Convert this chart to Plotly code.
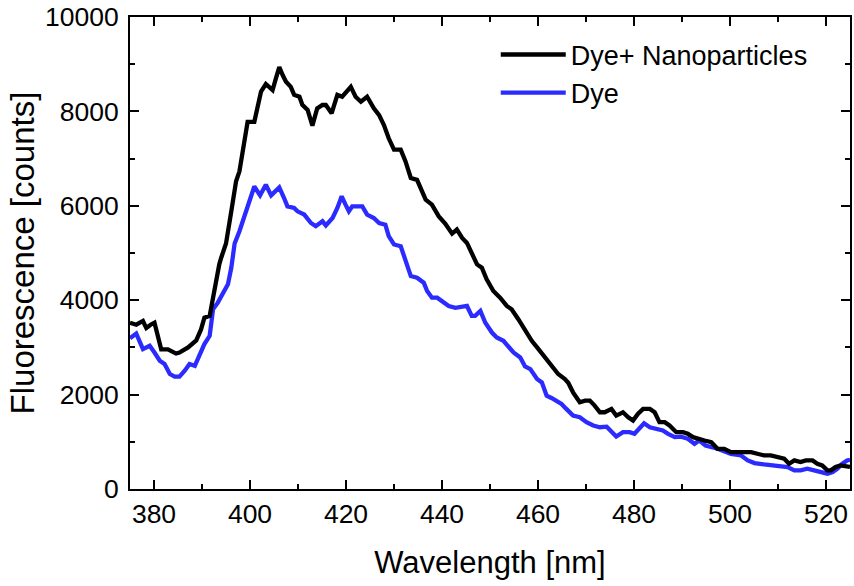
import plotly.graph_objects as go

# Dye + Nanoparticles (black)
np_x = [375.0, 376.3, 377.7, 378.4, 379.3, 380.1, 381.5, 382.9, 384.6, 385.3, 387.1, 388.8, 389.8, 390.5,
        391.6, 392.6, 393.6, 394.0, 395.0, 396.1, 397.1, 397.8, 398.8, 399.5, 400.9, 401.6, 402.3, 403.3,
        404.7, 405.4, 406.1, 406.8, 407.5, 408.5, 409.2, 410.3, 410.9, 412.0, 413.0, 414.0, 415.1, 415.8,
        417.0, 418.2, 419.2, 421.0, 422.0, 423.1, 424.4, 425.8, 426.9, 427.9, 428.9, 430.0, 431.4, 432.4,
        433.5, 434.8, 435.5, 436.6, 437.9, 439.3, 440.7, 442.1, 443.1, 444.2, 445.2, 446.2, 447.3, 448.3,
        449.3, 450.7, 452.1, 453.5, 454.5, 455.9, 457.3, 458.7, 460.1, 461.5, 462.8, 464.2, 465.6, 466.3,
        467.3, 468.7, 469.8, 470.8, 471.8, 472.9, 473.9, 475.3, 476.3, 477.7, 478.8, 479.8, 480.8, 481.9,
        483.3, 484.3, 485.3, 486.4, 487.4, 488.8, 490.2, 491.2, 492.3, 493.3, 494.7, 496.1, 497.4, 498.8,
        500.2, 501.6, 503.0, 504.4, 505.7, 507.1, 508.5, 509.9, 511.3, 512.3, 513.4, 514.7, 515.8, 517.2,
        518.2, 519.2, 520.3, 521.0, 522.0, 523.0, 524.4, 525.0]
np_y = [3520, 3480, 3560, 3410, 3480, 3525, 2960, 2960, 2870, 2890, 3000, 3150, 3380, 3630,
        3670, 4265, 4760, 4900, 5200, 5880, 6520, 6730, 7430, 7780, 7780, 8100, 8420, 8580,
        8450, 8700, 8940, 8770, 8630, 8520, 8350, 8310, 8140, 8030, 7700, 8065, 8136, 8136,
        7960, 8350, 8310, 8520, 8310, 8205, 8310, 8065, 7920, 7710, 7430, 7190, 7190, 6940,
        6590, 6550, 6380, 6130, 6025, 5780, 5620, 5410, 5497, 5320, 5214, 4969, 4758, 4687,
        4441, 4195, 4054, 3878, 3808, 3597, 3350, 3139, 2963, 2787, 2611, 2436, 2330, 2250,
        2048, 1837, 1873, 1873, 1767, 1626, 1626, 1697, 1556, 1626, 1520, 1450, 1591, 1697,
        1697, 1626, 1415, 1415, 1345, 1204, 1204, 1169, 1098, 1063, 1028, 992, 852, 852,
        781, 781, 781, 781, 746, 711, 711, 676, 641, 536, 606, 570, 606, 606,
        536, 500, 395, 395, 465, 500, 465, 470]

# Dye (blue)
dye_x = [375.0, 376.3, 377.7, 379.1, 380.1, 381.2, 382.2, 383.3, 384.3, 385.3, 386.4, 387.4, 388.5, 389.5,
         390.5, 391.6, 392.3, 393.3, 394.3, 395.4, 396.1, 396.8, 397.8, 398.8, 399.9, 400.9, 402.1, 403.3,
         404.4, 406.1, 407.1, 407.8, 409.2, 409.9, 411.3, 412.7, 413.7, 415.1, 415.8, 417.2, 418.2, 419.1,
         419.9, 420.6, 421.3, 423.4, 424.4, 425.8, 426.9, 428.2, 428.9, 430.0, 431.4, 432.4, 433.5, 434.8,
         436.2, 436.9, 437.9, 439.0, 440.0, 440.7, 441.4, 442.8, 443.5, 445.2, 446.2, 446.9, 448.0, 449.0,
         450.4, 451.4, 452.8, 453.9, 454.9, 456.3, 457.3, 458.4, 459.8, 460.8, 461.8, 462.8, 463.9, 464.9,
         465.9, 467.3, 468.7, 470.1, 471.5, 472.9, 474.3, 475.3, 476.3, 477.7, 479.1, 480.1, 481.2, 482.1,
         483.3, 484.7, 486.0, 487.1, 488.5, 489.8, 491.2, 492.6, 493.6, 494.9, 497.4, 500.2, 502.3, 503.7,
         505.1, 507.1, 509.9, 512.0, 513.4, 514.7, 516.1, 517.5, 518.9, 520.3, 521.4, 522.4, 523.4, 524.4,
         525.0]
dye_y = [3196, 3293, 2963, 3033, 2892, 2717, 2647, 2436, 2379, 2379, 2506, 2647, 2611, 2858,
         3069, 3245, 3808, 3948, 4125, 4336, 4687, 5200, 5461, 5778, 6095, 6411, 6221, 6447,
         6221, 6390, 6164, 5989, 5953, 5883, 5814, 5636, 5567, 5672, 5584, 5742, 5953, 6200,
         6025, 5883, 5989, 5989, 5814, 5742, 5636, 5600, 5356, 5180, 5144, 4828, 4511, 4476,
         4370, 4195, 4054, 4054, 3983, 3913, 3878, 3840, 3857, 3878, 3667, 3667, 3772, 3526,
         3315, 3209, 3139, 2998, 2892, 2787, 2597, 2541, 2330, 2259, 1978, 1929, 1873, 1803,
         1697, 1556, 1520, 1415, 1345, 1309, 1320, 1204, 1113, 1204, 1204, 1169, 1275, 1393,
         1309, 1275, 1239, 1169, 1098, 1110, 1063, 958, 1028, 922, 852, 746, 711, 606,
         549, 521, 500, 465, 395, 395, 430, 395, 359, 324, 359, 430, 536, 606,
         620]

x_ticks = [380, 400, 420, 440, 460, 480, 500, 520]
x_labels = ["380", "400", "420", "440", "460", "480", "500", "520"]
y_ticks = [0, 2000, 4000, 6000, 8000, 10000]
y_labels = ["0", "2000", "4000", "6000", "8000", "10000"]

FONT = "Liberation Sans, Arial, sans-serif"

fig = go.Figure()
fig.add_trace(go.Scatter(x=dye_x, y=dye_y, mode="lines", name="Dye",
                         line=dict(color="#2b2bff", width=4.3)))
fig.add_trace(go.Scatter(x=np_x, y=np_y, mode="lines", name="Dye+ Nanoparticles",
                         line=dict(color="black", width=4.3)))

axis_common = dict(showline=True, linecolor="black", linewidth=2, mirror="allticks",
                   ticks="inside", ticklen=9, tickwidth=1.5, tickcolor="black",
                   showgrid=False, zeroline=False,
                   tickfont=dict(family=FONT, size=26.5, color="black"))

fig.update_xaxes(range=[375, 525], tickvals=x_ticks, ticktext=x_labels,
                 minor=dict(dtick=10, tick0=370, ticks="inside", ticklen=5, tickcolor="black", tickwidth=1.5),
                 title=dict(text="Wavelength [nm]", font=dict(family=FONT, size=31, color="black"), standoff=24),
                 **axis_common)
fig.update_yaxes(range=[0, 10000], tickvals=y_ticks, ticktext=y_labels, ticklabelstandoff=4,
                 minor=dict(dtick=1000, ticks="inside", ticklen=5, tickcolor="black", tickwidth=1.5),
                 title=dict(text="Fluorescence [counts]", font=dict(family=FONT, size=33, color="black"), standoff=0),
                 **axis_common)

fig.update_layout(
    width=854, height=586,
    margin=dict(l=130, r=2, t=15, b=97),
    paper_bgcolor="white", plot_bgcolor="white",
    showlegend=True,
    legend=dict(x=0.508, y=0.9715, xanchor="left", yanchor="top", traceorder="reversed",
                bgcolor="rgba(0,0,0,0)", font=dict(family=FONT, size=27, color="black"),
                itemwidth=65, tracegroupgap=0),
)

fig.write_html("out.html")
